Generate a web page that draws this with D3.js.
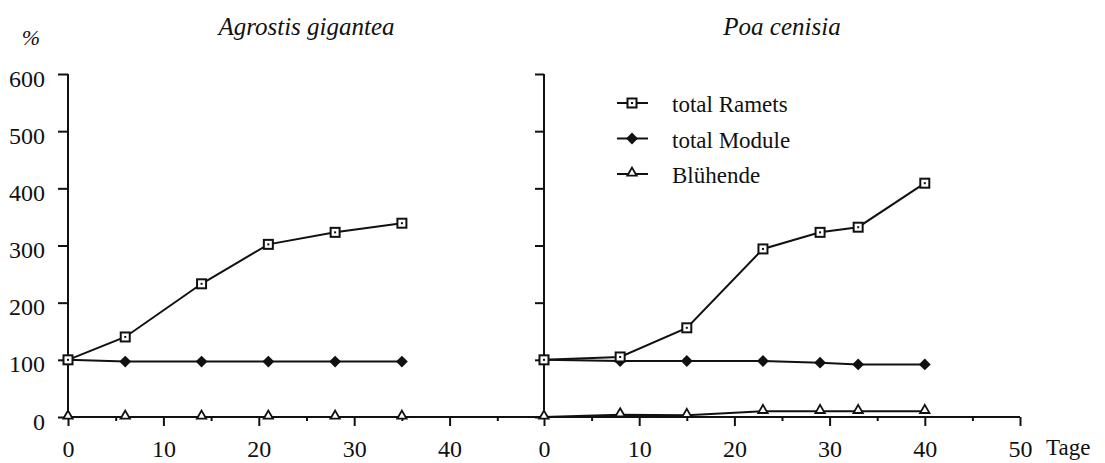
<!DOCTYPE html>
<html lang="de">
<head>
    <meta charset="UTF-8">
    <title>Ramets, Module, Blühende</title>
    <script src="https://d3js.org/d3.v7.min.js"></script>
    <style>
        body { margin: 0; background: #fff; }
        svg { display: block; }
        .axis path, .axis line { stroke: #111; stroke-width: 2px; }
        .series { fill: none; stroke: #111; stroke-width: 2px; }
    </style>
</head>
<body>
    <script>
        // values (days, % of start)
        const agrDays = [0, 6, 14, 21, 28, 35];
        const agrRamets = [100, 140, 233, 302, 323, 339];
        const agrModule = [100, 97, 97, 97, 97, 97];
        const agrBluehend = [0, 0, 0, 0, 0, 0];

        const poaDays = [0, 8, 15, 23, 29, 33, 40];
        const poaRamets = [100, 105, 156, 294, 323, 332, 409];
        const poaModule = [100, 98, 98, 98, 95, 92, 92];
        const poaBluehend = [0, 4, 3, 10, 10, 10, 10];

        const yTicks = [0, 100, 200, 300, 400, 500, 600];
        const seriesNames = ["total Ramets", "total Module", "Blühende"];

        // pick the first serif face that is really installed
        const ctx = document.createElement("canvas").getContext("2d");
        function widthWith(f) {
            ctx.font = "40px " + f;
            return ctx.measureText("Agrostis gigantea 1234567890").width;
        }
        const candidates = ["Liberation Serif", "Times New Roman", "Tinos", "DejaVu Serif", "Noto Serif", "FreeSerif", "Nimbus Roman", "Times"];
        let serif = "serif";
        for (const c of candidates) {
            if (widthWith(`'${c}', monospace`) !== widthWith("monospace")) { serif = `'${c}', serif`; break; }
        }

        const width = 1105, height = 463;
        const svg = d3.select("body").append("svg")
            .attr("width", width)
            .attr("height", height)
            .attr("font-family", serif);

        const y = d3.scaleLinear().domain([0, 600]).range([417, 74]);

        function label(sel, size) {
            return sel.attr("font-family", serif)
                .style("font-family", serif)
                .style("font-size", size + "px")
                .attr("fill", "#111");
        }

        // marker drawing
        function marker(g, kind, cx, cy) {
            if (kind === 0) {
                g.append("rect")
                    .attr("x", cx - 4.5).attr("y", cy - 4.5)
                    .attr("width", 9).attr("height", 9)
                    .attr("fill", "#fff").attr("stroke", "#111").attr("stroke-width", 2);
                g.append("rect")
                    .attr("x", cx - 1).attr("y", cy - 1)
                    .attr("width", 2).attr("height", 2)
                    .attr("fill", "#111");
            } else if (kind === 1) {
                g.append("path")
                    .attr("d", d3.symbol(d3.symbolSquare, 70)())
                    .attr("transform", `translate(${cx},${cy}) rotate(45)`)
                    .attr("fill", "#111");
            } else {
                g.append("path")
                    .attr("d", d3.symbol(d3.symbolTriangle, 38)())
                    .attr("transform", `translate(${cx},${cy - 1})`)
                    .attr("fill", "#fff").attr("stroke", "#111").attr("stroke-width", 1.8);
            }
        }

        function drawPanel(opts) {
            const x = d3.scaleLinear().domain([0, 50]).range(opts.xRange);
            const g = svg.append("g");

            // y axis
            const yAxis = g.append("g").attr("class", "axis")
                .attr("transform", `translate(${opts.xRange[0]},0)`)
                .call(d3.axisLeft(y).tickValues(yTicks).tickSize(opts.yTickSize).tickSizeOuter(0)
                    .tickFormat(opts.yLabels ? d3.format("d") : ""));
            label(yAxis.selectAll("text"), 24)
                .attr("x", -23)
                .attr("dy", "0.5em");

            // x axis: minor then major ticks
            g.append("g").attr("class", "axis")
                .attr("transform", "translate(0,417)")
                .call(d3.axisBottom(x).tickValues(d3.range(5, 50, 10)).tickSize(4).tickSizeOuter(0).tickFormat(""));
            const xAxis = g.append("g").attr("class", "axis")
                .attr("transform", "translate(0,417)")
                .call(d3.axisBottom(x).tickValues(opts.xTicks).tickSize(9).tickSizeOuter(0));
            label(xAxis.selectAll("text"), 24)
                .attr("y", 0)
                .attr("dy", 40);
            g.selectAll(".axis").attr("font-family", serif);
            g.selectAll(".axis .domain").attr("d", null);
            g.append("line")
                .attr("x1", x(0)).attr("x2", x(50))
                .attr("y1", 417).attr("y2", 417)
                .attr("stroke", "#111").attr("stroke-width", 2);
            g.append("line")
                .attr("x1", x(0)).attr("x2", x(0))
                .attr("y1", 74).attr("y2", 417)
                .attr("stroke", "#111").attr("stroke-width", 2);

            // title
            label(g.append("text"), 25)
                .attr("x", (opts.xRange[0] + opts.xRange[1]) / 2)
                .attr("y", 35)
                .attr("text-anchor", "middle")
                .style("font-style", "italic")
                .text(opts.title);

            const line = d3.line().x(d => x(d[0])).y(d => y(d[1]));
            const series = [opts.bluehend, opts.module, opts.ramets];
            const kinds = [2, 1, 0];
            series.forEach((vals, i) => {
                const pts = opts.days.map((d, j) => [d, vals[j]]);
                g.append("path").datum(pts).attr("class", "series").attr("d", line);
                const mg = g.append("g");
                pts.forEach(p => marker(mg, kinds[i], x(p[0]), y(p[1])));
            });
        }

        drawPanel({
            xRange: [68, 545],
            xTicks: [0, 10, 20, 30, 40],
            yTickSize: 10,
            yLabels: true,
            title: "Agrostis gigantea",
            days: agrDays, ramets: agrRamets, module: agrModule, bluehend: agrBluehend
        });

        drawPanel({
            xRange: [544, 1020],
            xTicks: [0, 10, 20, 30, 40, 50],
            yTickSize: 9,
            yLabels: false,
            title: "Poa cenisia",
            days: poaDays, ramets: poaRamets, module: poaModule, bluehend: poaBluehend
        });

        // unit labels
        label(svg.append("text"), 22)
            .attr("x", 31).attr("y", 45)
            .attr("text-anchor", "middle")
            .style("font-style", "italic")
            .text("%");
        label(svg.append("text"), 23)
            .attr("x", 1046).attr("y", 455)
            .text("Tage");

        // legend
        const legend = svg.append("g");
        seriesNames.forEach((name, i) => {
            const cy = 103 + i * 35.5;
            legend.append("line")
                .attr("x1", 617).attr("x2", 648)
                .attr("y1", cy).attr("y2", cy)
                .attr("stroke", "#111").attr("stroke-width", 2);
            marker(legend, i, 632, cy);
            label(legend.append("text"), 23)
                .attr("x", 672).attr("y", cy + 9)
                .text(name);
        });
    </script>
</body>
</html>
